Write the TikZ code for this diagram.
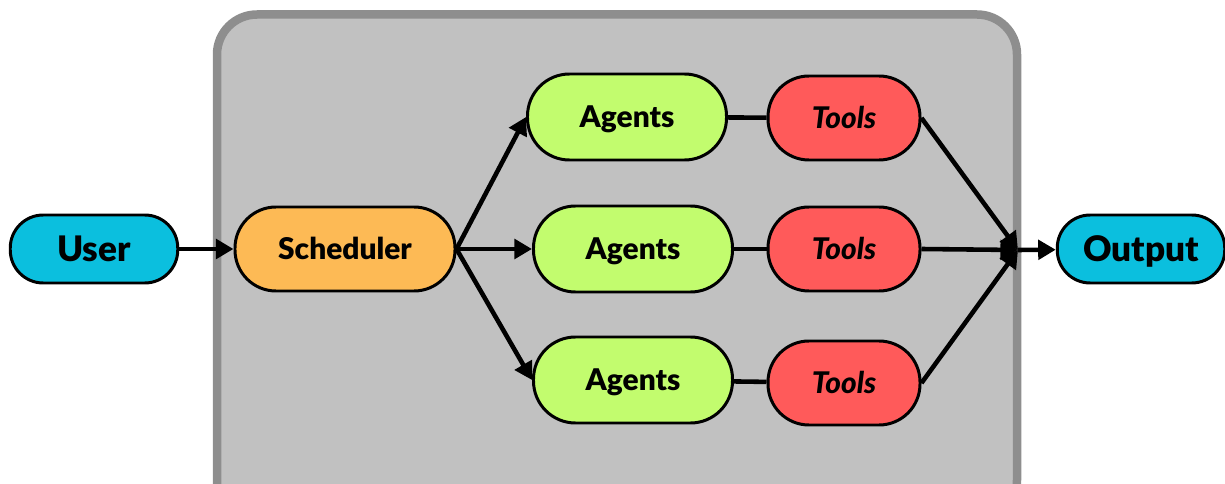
\documentclass[tikz,border=0pt]{standalone}
\usepackage{fontspec}
\setmainfont{Lato}[BoldFont={Lato Black}, BoldItalicFont={Lato Black Italic}]
\usepackage{xcolor}
\usetikzlibrary{arrows.meta}

\definecolor{iocyan}{HTML}{0BBFDE}
\definecolor{schedorange}{HTML}{FDBA55}
\definecolor{agentgreen}{HTML}{C2FC6E}
\definecolor{toolred}{HTML}{FF5A5A}
\definecolor{panelgray}{HTML}{C1C1C1}
\definecolor{panelborder}{HTML}{8E8E8E}

\begin{document}
\begin{tikzpicture}[
            > = {Triangle[length=10pt,width=11pt]}, % arrow head style
            line width = 2.6pt, % line style
            node distance = 5cm % distance between nodes
        ]

        \tikzstyle{pill}=[
            draw = black,
            line width = 1.7pt,
            rectangle,
            text height = 12.2pt,
            text depth = 0pt,
            font = \bfseries\fontsize{17}{20}\selectfont
        ]
        \tikzstyle{io}=[
            pill,
            fill = iocyan,
            minimum width = 3.35cm,
            minimum height = 1.36cm,
            rounded corners = 0.66cm,
            text height = 14.4pt,
            font = \bfseries\fontsize{20}{24}\selectfont
        ]
        \tikzstyle{agent}=[
            pill,
            fill = agentgreen,
            minimum width = 3.98cm,
            minimum height = 1.72cm,
            rounded corners = 0.84cm
        ]
        \tikzstyle{tool}=[
            pill,
            fill = toolred,
            minimum width = 3.04cm,
            minimum height = 1.68cm,
            rounded corners = 0.82cm,
            font = \bfseries\itshape\fontsize{17}{20}\selectfont
        ]

        \useasboundingbox (0,0) rectangle (24.5,-9.68);

        % gray panel
        \draw[panelborder, fill=panelgray, line width=0.17cm, rounded corners=0.8cm]
            (4.34,-0.29) rectangle (20.34,-10.4);

        \node[io] (U) at (1.88,-4.98) {User};
        \node[pill, fill=schedorange, minimum width=4.4cm, minimum height=1.68cm, rounded corners=0.82cm] (S) [right of=U, node distance=5.02cm] {Scheduler};
        \node[agent] (A2) [right of=S, node distance=5.76cm] {Agents};
        \node[agent] (A1) [above of=A2, node distance=2.64cm, xshift=-0.12cm] {Agents};
        \node[agent] (A3) [below of=A2, node distance=2.62cm] {Agents};
        \node[tool] (T2) [right of=A2, node distance=4.22cm] {Tools};
        \node[tool] (T1) [above of=T2, node distance=2.62cm] {Tools};
        \node[tool] (T3) [below of=T2, node distance=2.68cm] {Tools};
        \node[io] (O) [right of=T2, node distance=5.94cm] {Output};

        \coordinate (M) at (20.36,-5.0);

        \path[->] (U) edge (S);
        \path[->] (S.east) edge (A1.west);
        \path[->] (S.east) edge (A2.west);
        \path[->] (S.east) edge (A3.west);
        \path (A1) edge (T1);
        \path (A2) edge (T2);
        \path (A3) edge (T3);
        \path[->] (T1.east) edge (M);
        \path[->] (T2.east) edge (M);
        \path[->] (T3.east) edge (M);
        \path[->] (M) edge (O);
    \end{tikzpicture}
\end{document}
